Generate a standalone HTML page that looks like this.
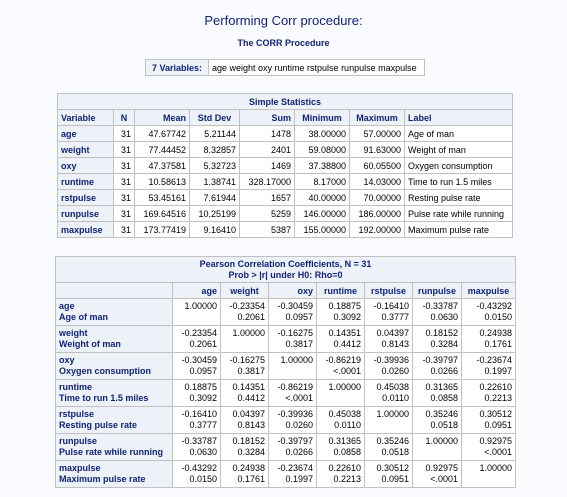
<!DOCTYPE html>
<html><head><meta charset="utf-8"><style>
body{margin:0;width:567px;height:497px;background:#fafbfe;font-family:"Liberation Sans",Arial,sans-serif;position:relative;overflow:hidden}
.t1{position:absolute;top:13px;left:0;width:567px;text-align:center;font-size:13px;color:#112277}
.t2{position:absolute;top:38px;left:0;width:567px;text-align:center;font-size:9px;font-weight:bold;color:#112277}
table{position:absolute;border-collapse:collapse;table-layout:fixed;font-size:9px}
td,th{border:1px solid #c1c1c1;padding:0 3px;white-space:nowrap;overflow:hidden;line-height:10px}
th{background:#edf2f9;color:#112277;font-weight:bold}
td{background:#fff;color:#000}
.r{text-align:right}.l{text-align:left}.c{text-align:center}
#ss tr{height:16px}
#pc tr.d{height:27px}
#pc tr.d td,#pc tr.d th{vertical-align:top;padding-top:2px;padding-bottom:0;line-height:11px;height:24px}
#pc tr.d th{text-align:left}
</style></head><body>
<div class="t1">Performing Corr procedure:</div>
<div class="t2">The CORR Procedure</div>

<table style="left:145px;top:59px;width:279px;height:16px">
<colgroup><col style="width:63px"><col style="width:216px"></colgroup>
<tr style="height:16px"><th class="c">7 Variables:</th><td class="l">age weight oxy runtime rstpulse runpulse maxpulse</td></tr>
</table>

<table id="ss" style="left:57px;top:93px;width:455px">
<colgroup><col style="width:56px"><col style="width:21px"><col style="width:55px"><col style="width:50px"><col style="width:55px"><col style="width:55px"><col style="width:55px"><col style="width:108px"></colgroup>
<tr><th colspan="8" class="c">Simple Statistics</th></tr>
<tr><th class="l">Variable</th><th class="c">N</th><th class="r">Mean</th><th class="c">Std Dev</th><th class="r">Sum</th><th class="c">Minimum</th><th class="c">Maximum</th><th class="l">Label</th></tr>
<tr><th class="l">age</th><td class="r">31</td><td class="r">47.67742</td><td class="r">5.21144</td><td class="r">1478</td><td class="r">38.00000</td><td class="r">57.00000</td><td>Age of man</td></tr>
<tr><th class="l">weight</th><td class="r">31</td><td class="r">77.44452</td><td class="r">8.32857</td><td class="r">2401</td><td class="r">59.08000</td><td class="r">91.63000</td><td>Weight of man</td></tr>
<tr><th class="l">oxy</th><td class="r">31</td><td class="r">47.37581</td><td class="r">5.32723</td><td class="r">1469</td><td class="r">37.38800</td><td class="r">60.05500</td><td>Oxygen consumption</td></tr>
<tr><th class="l">runtime</th><td class="r">31</td><td class="r">10.58613</td><td class="r">1.38741</td><td class="r">328.17000</td><td class="r">8.17000</td><td class="r">14.03000</td><td>Time to run 1.5 miles</td></tr>
<tr><th class="l">rstpulse</th><td class="r">31</td><td class="r">53.45161</td><td class="r">7.61944</td><td class="r">1657</td><td class="r">40.00000</td><td class="r">70.00000</td><td>Resting pulse rate</td></tr>
<tr><th class="l">runpulse</th><td class="r">31</td><td class="r">169.64516</td><td class="r">10.25199</td><td class="r">5259</td><td class="r">146.00000</td><td class="r">186.00000</td><td>Pulse rate while running</td></tr>
<tr><th class="l">maxpulse</th><td class="r">31</td><td class="r">173.77419</td><td class="r">9.16410</td><td class="r">5387</td><td class="r">155.00000</td><td class="r">192.00000</td><td>Maximum pulse rate</td></tr>
</table>

<table id="pc" style="left:55px;top:256px;width:460px">
<colgroup><col style="width:117px"><col style="width:48px"><col style="width:48px"><col style="width:48px"><col style="width:48px"><col style="width:48px"><col style="width:49px"><col style="width:54px"></colgroup>
<tr style="height:26px"><th colspan="8" class="c" style="line-height:11px;height:24px;padding:1px 3px 0">Pearson Correlation Coefficients, N = 31<br>Prob &gt; |r| under H0: Rho=0</th></tr>
<tr style="height:16px"><th></th><th class="r">age</th><th class="c">weight</th><th class="r">oxy</th><th class="c">runtime</th><th class="c">rstpulse</th><th class="c">runpulse</th><th class="c">maxpulse</th></tr>
<tr class="d"><th>age<br>Age of man</th><td class="r">1.00000<br>&nbsp;</td><td class="r">-0.23354<br>0.2061</td><td class="r">-0.30459<br>0.0957</td><td class="r">0.18875<br>0.3092</td><td class="r">-0.16410<br>0.3777</td><td class="r">-0.33787<br>0.0630</td><td class="r">-0.43292<br>0.0150</td></tr>
<tr class="d"><th>weight<br>Weight of man</th><td class="r">-0.23354<br>0.2061</td><td class="r">1.00000<br>&nbsp;</td><td class="r">-0.16275<br>0.3817</td><td class="r">0.14351<br>0.4412</td><td class="r">0.04397<br>0.8143</td><td class="r">0.18152<br>0.3284</td><td class="r">0.24938<br>0.1761</td></tr>
<tr class="d"><th>oxy<br>Oxygen consumption</th><td class="r">-0.30459<br>0.0957</td><td class="r">-0.16275<br>0.3817</td><td class="r">1.00000<br>&nbsp;</td><td class="r">-0.86219<br>&lt;.0001</td><td class="r">-0.39936<br>0.0260</td><td class="r">-0.39797<br>0.0266</td><td class="r">-0.23674<br>0.1997</td></tr>
<tr class="d"><th>runtime<br>Time to run 1.5 miles</th><td class="r">0.18875<br>0.3092</td><td class="r">0.14351<br>0.4412</td><td class="r">-0.86219<br>&lt;.0001</td><td class="r">1.00000<br>&nbsp;</td><td class="r">0.45038<br>0.0110</td><td class="r">0.31365<br>0.0858</td><td class="r">0.22610<br>0.2213</td></tr>
<tr class="d"><th>rstpulse<br>Resting pulse rate</th><td class="r">-0.16410<br>0.3777</td><td class="r">0.04397<br>0.8143</td><td class="r">-0.39936<br>0.0260</td><td class="r">0.45038<br>0.0110</td><td class="r">1.00000<br>&nbsp;</td><td class="r">0.35246<br>0.0518</td><td class="r">0.30512<br>0.0951</td></tr>
<tr class="d"><th>runpulse<br>Pulse rate while running</th><td class="r">-0.33787<br>0.0630</td><td class="r">0.18152<br>0.3284</td><td class="r">-0.39797<br>0.0266</td><td class="r">0.31365<br>0.0858</td><td class="r">0.35246<br>0.0518</td><td class="r">1.00000<br>&nbsp;</td><td class="r">0.92975<br>&lt;.0001</td></tr>
<tr class="d"><th>maxpulse<br>Maximum pulse rate</th><td class="r">-0.43292<br>0.0150</td><td class="r">0.24938<br>0.1761</td><td class="r">-0.23674<br>0.1997</td><td class="r">0.22610<br>0.2213</td><td class="r">0.30512<br>0.0951</td><td class="r">0.92975<br>&lt;.0001</td><td class="r">1.00000<br>&nbsp;</td></tr>
</table>
</body></html>
